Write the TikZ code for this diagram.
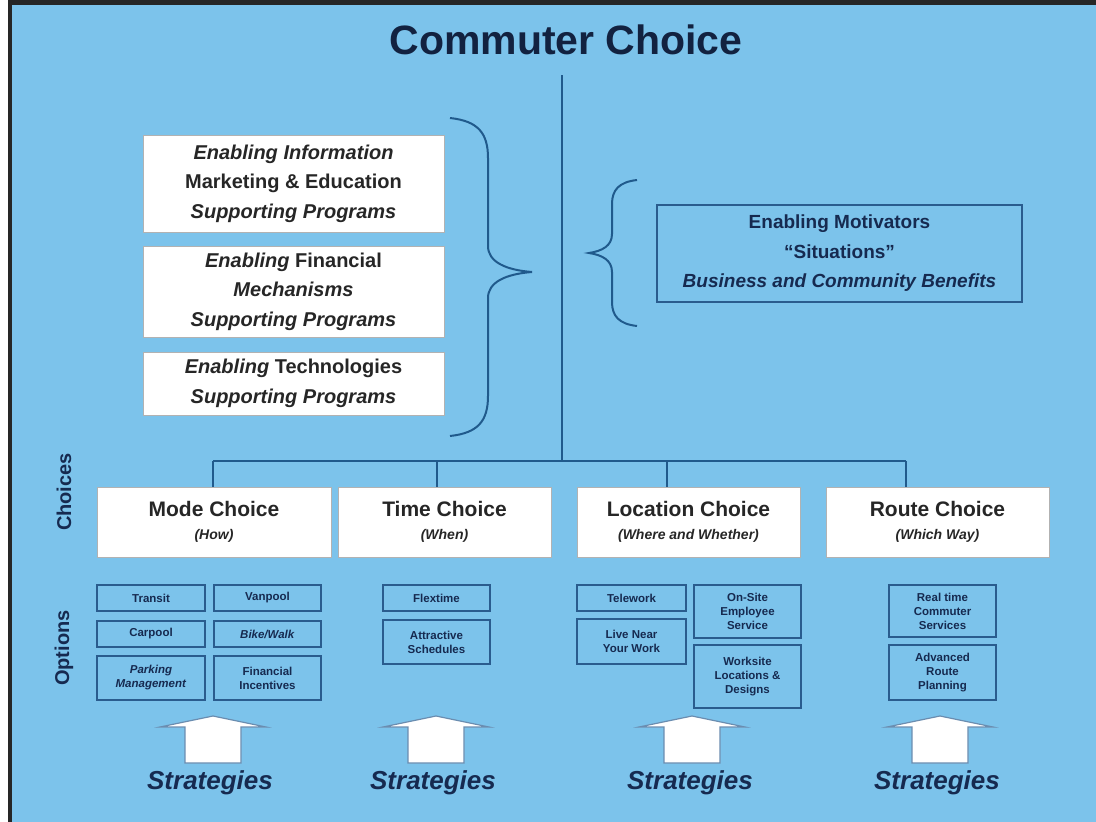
\documentclass[tikz,border=0pt]{standalone}
\usepackage{fontspec}
\setmainfont{Liberation Sans}
\definecolor{skyback}{RGB}{124,195,235}
\definecolor{navy}{RGB}{22,42,80}
\definecolor{treeblue}{RGB}{32,90,140}
\definecolor{optline}{RGB}{42,92,142}
\newcommand\chsub[1]{{\fontsize{14}{16}\selectfont\itshape #1}}

\begin{document}
\begin{tikzpicture}[x=1pt,y=-1pt,line width=1.5pt,
  every node/.style={inner sep=0pt},
  whitebox/.style={draw=gray!60,fill=white,line width=1pt,align=center,text=black!85,
    font=\fontsize{20}{29.5}\selectfont\bfseries},
  choicebox/.style={draw=gray!60,fill=white,line width=1pt,align=center,text=black!85,
    font=\fontsize{21}{24}\selectfont\bfseries},
  optbox/.style={draw=optline,fill=skyback,line width=1.5pt,align=center,text=navy,
    font=\fontsize{11.5}{14}\selectfont\bfseries},
  treeline/.style={draw=treeblue,line width=1.5pt},
  bracket/.style={draw=treeblue,line width=2pt},
  sidelabel/.style={rotate=90,text=navy,font=\fontsize{20}{24}\selectfont\bfseries},
  stratlabel/.style={text=navy,font=\fontsize{26}{30}\selectfont\bfseries\itshape}]
  \useasboundingbox (0,0) rectangle (1096,822);
  % fondo y marco
  \fill[white] (0,0) rectangle (1096,822);
  \fill[skyback] (11,5) rectangle (1096,822);
  \fill[black!85] (8,0) rectangle (1096,5);
  \fill[black!85] (8,0) rectangle (12,822);
  % titulo
  \node[text=navy!80!black,font=\fontsize{41}{48}\selectfont\bfseries] (title) at (566,40) {Commuter Choice};
  % tronco y barra
  \coordinate (trunktop) at (562,75);
  \coordinate (trunkfoot) at (562,461);
  \coordinate (b1) at (213,461);
  \coordinate (b2) at (437,461);
  \coordinate (b3) at (667,461);
  \coordinate (b4) at (906,461);
  \draw[treeline] (trunktop) -- (trunkfoot);
  \draw[treeline] (b1) -- (b4);
  % cajas de la izquierda
  \node[whitebox,minimum width=301,minimum height=97] (info) at (293.5,183.5)
    {\textit{Enabling Information}\\Marketing \& Education\\\textit{Supporting Programs}};
  \node[whitebox,minimum width=301,minimum height=91] (finance) at (293.5,291.5)
    {\textit{Enabling} Financial\\\textit{Mechanisms}\\\textit{Supporting Programs}};
  \node[whitebox,minimum width=301,minimum height=63] (tech) at (293.5,383.5)
    {\textit{Enabling} Technologies\\\textit{Supporting Programs}};
  % llaves
  \draw[bracket] (450,118) .. controls (478,121) and (488,133) .. (488,158) -- (488,246)
    .. controls (488,262) and (506,270) .. (532,272) .. controls (506,274) and (488,282) .. (488,298)
    -- (488,396) .. controls (488,421) and (478,433) .. (450,436);
  \draw[bracket] (637,180) .. controls (619,182) and (612,190) .. (612,204) -- (612,234)
    .. controls (612,246) and (602,251) .. (589,253) .. controls (602,255) and (612,260) .. (612,272)
    -- (612,302) .. controls (612,316) and (619,324) .. (637,326);
  % motivadores
  \node[draw=optline,line width=1.5pt,fill=skyback,align=center,text=navy,
    font=\fontsize{19}{29.5}\selectfont\bfseries,minimum width=365,minimum height=97] (motiv) at (839.5,253.5)
    {Enabling Motivators\\``Situations''\\\textit{Business and Community Benefits}};
  % elecciones
  \node[choicebox,minimum width=234,minimum height=70] (mode) at (214,522) {Mode Choice\\[-1pt]\chsub{(How)}};
  \node[choicebox,minimum width=213,minimum height=70] (time) at (444.5,522) {Time Choice\\[-1pt]\chsub{(When)}};
  \node[choicebox,minimum width=223,minimum height=70] (location) at (688.5,522) {Location Choice\\[-1pt]\chsub{(Where and Whether)}};
  \node[choicebox,minimum width=223,minimum height=70] (route) at (937.5,522) {Route Choice\\[-1pt]\chsub{(Which Way)}};
  \draw[treeline] (b1) -- (b1 |- mode.north);
  \draw[treeline] (b2) -- (b2 |- time.north);
  \draw[treeline] (b3) -- (b3 |- location.north);
  \draw[treeline] (b4) -- (b4 |- route.north);
  % etiquetas laterales
  \node[sidelabel] (choices) at (64,492) {Choices};
  \node[sidelabel] (options) at (64,648) {Options};
  % opciones
  \node[optbox,minimum width=108,minimum height=26] (transit) at (151,598) {Transit};
  \node[optbox,minimum width=107,minimum height=26] (vanpool) at (267.5,598) {Vanpool};
  \node[optbox,minimum width=108,minimum height=26] (carpool) at (151,634) {Carpool};
  \node[optbox,minimum width=107,minimum height=26] (bikewalk) at (267.5,634) {\textit{Bike/Walk}};
  \node[optbox,minimum width=108,minimum height=44] (parking) at (151,678) {\textit{Parking}\\\textit{Management}};
  \node[optbox,minimum width=107,minimum height=44] (incent) at (267.5,678) {Financial\\Incentives};
  \node[optbox,minimum width=107,minimum height=26] (flextime) at (436.5,598) {Flextime};
  \node[optbox,minimum width=107,minimum height=44] (schedules) at (436.5,642) {Attractive\\Schedules};
  \node[optbox,minimum width=109,minimum height=26] (telework) at (631.5,598) {Telework};
  \node[optbox,minimum width=109,minimum height=45] (livenear) at (631.5,641.5) {Live Near\\Your Work};
  \node[optbox,minimum width=107,minimum height=53] (onsite) at (747.5,611.5) {On-Site\\Employee\\Service};
  \node[optbox,minimum width=107,minimum height=63] (worksite) at (747.5,676.5) {Worksite\\Locations \&\\Designs};
  \node[optbox,minimum width=107,minimum height=52] (realtime) at (942.5,611) {Real time\\Commuter\\Services};
  \node[optbox,minimum width=107,minimum height=55] (routeplan) at (942.5,672.5) {Advanced\\Route\\Planning};
  % flechas de estrategias
  \foreach \cx/\tx/\n in {213/210/1,436/433/2,692/690/3,940/937/4}{
    \filldraw[fill=white,draw=optline!70,line width=1.2pt]
      (\cx-28,763) -- (\cx-28,727) -- (\cx-53,727) -- (\cx,716) -- (\cx+53,727) -- (\cx+28,727) -- (\cx+28,763) -- cycle;
    \node[stratlabel] (strat\n) at (\tx,783) {Strategies};
  }
\end{tikzpicture}
\end{document}
